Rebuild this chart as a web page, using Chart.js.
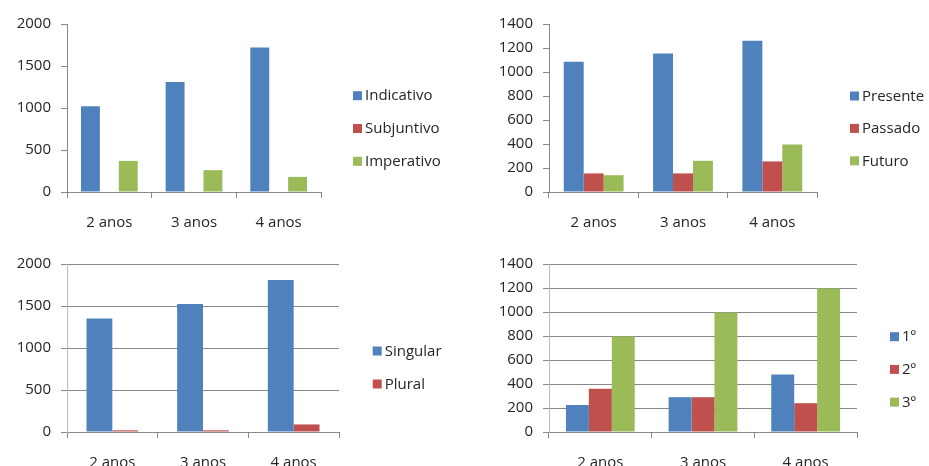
<!DOCTYPE html>
<html>
<head>
<meta charset="utf-8">
<script src="https://cdn.jsdelivr.net/npm/chart.js@4.4.1/dist/chart.umd.min.js"></script>
<style>
  html, body { margin: 0; padding: 0; background: #ffffff; }
  body { width: 929px; height: 466px; position: relative; overflow: hidden; }
  .panel { position: absolute; }
</style>
</head>
<body>
<div class="panel" style="left:0;top:0;width:460px;height:240px"><canvas id="c1" width="460" height="240"></canvas></div>
<div class="panel" style="left:460px;top:0;width:469px;height:240px"><canvas id="c2" width="469" height="240"></canvas></div>
<div class="panel" style="left:0;top:240px;width:460px;height:226px"><canvas id="c3" width="460" height="226"></canvas></div>
<div class="panel" style="left:460px;top:240px;width:469px;height:226px"><canvas id="c4" width="469" height="226"></canvas></div>
<script>
// Age groups shared by all four panels
const ages = ['2 anos', '3 anos', '4 anos'];

// Modo verbal
const indicativo = [1020, 1310, 1720];
const subjuntivo = [0, 0, 0];
const imperativo = [370, 260, 180];

// Tempo verbal
const presente = [1085, 1155, 1260];
const passado = [155, 155, 255];
const futuro = [140, 260, 395];

// Número
const singular = [1350, 1525, 1810];
const plural = [20, 20, 90];

// Pessoa
const pessoa1 = [225, 290, 480];
const pessoa2 = [360, 290, 240];
const pessoa3 = [795, 995, 1195];

// Y tick values
const ticksModo = [0, 500, 1000, 1500, 2000];
const ticksTempo = [0, 200, 400, 600, 800, 1000, 1200, 1400];

const BLUE = '#4F81BD', RED = '#C0504D', GREEN = '#9BBB59';
const FONT = '"Open Sans", "DejaVu Sans", sans-serif';
const TEXT = '#262626';

// Legend drawn to the right of the plot, one square + label per dataset
const sideLegend = {
  id: 'sideLegend',
  afterDraw(chart, args, opts) {
    const ctx = chart.ctx;
    ctx.save();
    ctx.font = '15px ' + FONT;
    ctx.textBaseline = 'middle';
    ctx.textAlign = 'left';
    chart.data.datasets.forEach((ds, i) => {
      const y = opts.y0 + i * opts.step;
      ctx.fillStyle = ds.backgroundColor;
      ctx.fillRect(opts.x, y - 4.5, 9, 9);
      ctx.fillStyle = TEXT;
      ctx.fillText(ds.label, opts.x + 12, y + 0.5);
    });
    ctx.restore();
  }
};

function makeChart(id, datasets, cfg) {
  new Chart(document.getElementById(id), {
    type: 'bar',
    data: { labels: ages, datasets: datasets },
    plugins: [sideLegend],
    options: {
      responsive: false,
      animation: false,
      events: [],
      layout: { padding: { left: cfg.padLeft, right: cfg.padRight, top: cfg.padTop, bottom: cfg.padBottom } },
      datasets: { bar: { categoryPercentage: cfg.catPct, barPercentage: 1, borderWidth: 0 } },
      plugins: {
        legend: { display: false },
        tooltip: { enabled: false },
        sideLegend: cfg.legend
      },
      scales: {
        x: {
          grid: { display: true, drawOnChartArea: false, drawTicks: true, tickLength: 6, color: '#888888', offset: true },
          border: { display: true, color: '#888888', width: 1 },
          ticks: { color: TEXT, font: { family: FONT, size: 15 }, padding: 16, maxRotation: 0 },
          afterFit(scale) { scale.height = cfg.xHeight; }
        },
        y: {
          min: 0,
          max: cfg.max,
          afterBuildTicks(scale) { scale.ticks = cfg.ticks.map(v => ({ value: v })); },
          grid: { drawOnChartArea: cfg.gridlines, drawTicks: true, tickLength: 6, color: '#888888', lineWidth: 1 },
          border: { display: true, color: cfg.gridlines ? '#BBBBBB' : '#888888', width: 1 },
          ticks: { color: TEXT, font: { family: FONT, size: 15 }, padding: 10, callback: v => String(v) },
          afterFit(scale) { scale.width = cfg.yWidth; }
        }
      }
    }
  });
}

makeChart('c1', [
  { label: 'Indicativo', data: indicativo, backgroundColor: BLUE },
  { label: 'Subjuntivo', data: subjuntivo, backgroundColor: RED },
  { label: 'Imperativo', data: imperativo, backgroundColor: GREEN }
], { padLeft: 7, yWidth: 60, padRight: 139, padTop: 24, padBottom: 8, xHeight: 40,
     catPct: 0.67, max: 2000, ticks: ticksModo, gridlines: false,
     legend: { x: 353, y0: 95.7, step: 32.8 } });

makeChart('c2', [
  { label: 'Presente', data: presente, backgroundColor: BLUE },
  { label: 'Passado', data: passado, backgroundColor: RED },
  { label: 'Futuro', data: futuro, backgroundColor: GREEN }
], { padLeft: 29, yWidth: 60, padRight: 112, padTop: 24, padBottom: 8, xHeight: 40,
     catPct: 0.67, max: 1400, ticks: ticksTempo, gridlines: false,
     legend: { x: 390, y0: 96, step: 32.4 } });

makeChart('c3', [
  { label: 'Singular', data: singular, backgroundColor: BLUE },
  { label: 'Plural', data: plural, backgroundColor: RED }
], { padLeft: 7, yWidth: 60, padRight: 121, padTop: 24, padBottom: -6, xHeight: 40,
     catPct: 0.57, max: 2000, ticks: ticksModo, gridlines: true,
     legend: { x: 372.7, y0: 111, step: 33 } });

makeChart('c4', [
  { label: '1º', data: pessoa1, backgroundColor: BLUE },
  { label: '2º', data: pessoa2, backgroundColor: RED },
  { label: '3º', data: pessoa3, backgroundColor: GREEN }
], { padLeft: 29, yWidth: 60, padRight: 72, padTop: 24, padBottom: -6, xHeight: 40,
     catPct: 0.67, max: 1400, ticks: ticksTempo, gridlines: true,
     legend: { x: 430, y0: 96.7, step: 32.7 } });
</script>
</body>
</html>
